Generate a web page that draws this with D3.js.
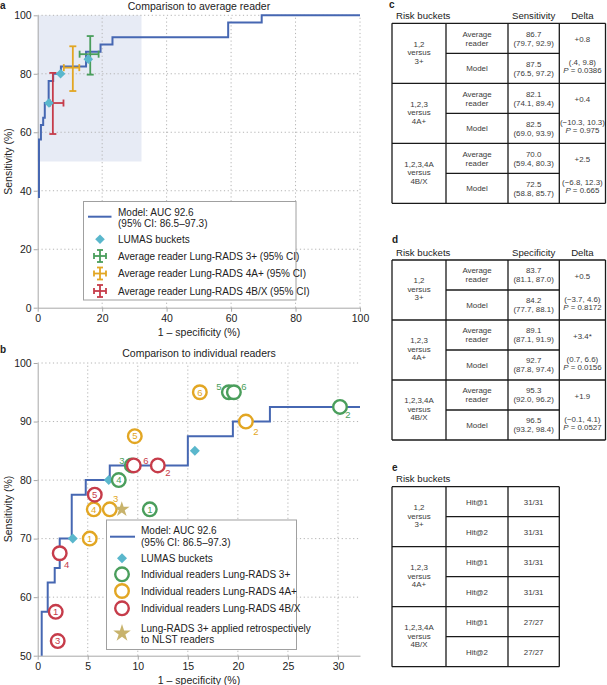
<!DOCTYPE html>
<html>
<head>
<meta charset="utf-8">
<script src="https://cdn.jsdelivr.net/npm/d3@7"></script>
<style>
  body { margin: 0; background: #fff; }
  svg text { font-family: "Liberation Sans", Arial, sans-serif; }
  .axis path, .axis line { stroke: #a8a8a8; }
  .axis text { fill: #222; font-size: 10.5px; }
  .grid line { stroke: #b4b4b4; stroke-dasharray: 1.2,2.6; }
  .tbl text { fill: #3a3a3a; font-size: 7.9px; }
</style>
</head>
<body>
<svg id="fig" width="607" height="685"></svg>
<script>
/* ROC step breakpoints (1 - specificity, sensitivity) */
const rocFpr = [0.4, 1.0, 1.7, 2.2, 3.4, 4.8, 7.2, 15.0, 19.5, 23.2, 59.1, 69.5, 100];
const rocTpr = [37.5, 57.5, 62.5, 65, 70, 77.5, 80, 82.5, 87.5, 90, 92.5, 97.5, 100];

/* LUMAS bucket operating points */
const lumasFpr = [3.5, 7.1, 15.7];
const lumasTpr = [70, 80, 85];

/* average reader operating points with 95% CI, order: 3+, 4A+, 4B/X */
const avgFpr = [16.3, 10.9, 4.7];
const avgFprLo = [13.0, 8.1, 3.8];
const avgFprHi = [18.9, 12.9, 8.0];
const avgTpr = [86.7, 82.1, 70.0];
const avgTprLo = [79.7, 74.1, 59.4];
const avgTprHi = [92.9, 89.4, 80.3];

/* individual readers 1..6 */
const readerIds = ["1", "2", "3", "4", "5", "6"];
const green3Fpr = [11.2, 30.2, 9.4, 8.1, 19.1, 19.6];
const green3Tpr = [75, 92.5, 82.5, 80, 95, 95];
const orange4aFpr = [5.2, 20.8, 7.2, 5.6, 9.7, 16.2];
const orange4aTpr = [70, 90, 75, 75, 87.5, 95];
const red4bFpr = [1.8, 12.0, 2.0, 2.2, 5.7, 9.6];
const red4bTpr = [57.5, 82.5, 52.5, 67.5, 77.5, 82.5];

/* NLST retrospective point */
const nlstFpr = [8.4];
const nlstTpr = [75];

const ticksA = [0, 20, 40, 60, 80, 100];
const ticksBx = [0, 5, 10, 15, 20, 25, 30];
const ticksBy = [50, 60, 70, 80, 90, 100];

/* tables */
const bucketNames = [["1,2", "versus", "3+"], ["1,2,3", "versus", "4A+"], ["1,2,3,4A", "versus", "4B/X"]];
const sensAvg = ["86.7", "82.1", "70.0"];
const sensAvgCI = ["(79.7, 92.9)", "(74.1, 89.4)", "(59.4, 80.3)"];
const sensModel = ["87.5", "82.5", "72.5"];
const sensModelCI = ["(76.5, 97.2)", "(69.0, 93.9)", "(58.8, 85.7)"];
const sensDelta = ["+0.8", "+0.4", "+2.5"];
const sensDeltaCI = ["(.4, 9.8)", "(\u221210.3, 10.3)", "(\u22126.8, 12.3)"];
const sensP = ["0.0386", "0.975", "0.665"];
const specAvg = ["83.7", "89.1", "95.3"];
const specAvgCI = ["(81.1, 87.0)", "(87.1, 91.9)", "(92.0, 96.2)"];
const specModel = ["84.2", "92.7", "96.5"];
const specModelCI = ["(77.7, 88.1)", "(87.8, 97.4)", "(93.2, 98.4)"];
const specDelta = ["+0.5", "+3.4*", "+1.9"];
const specDeltaCI = ["(\u22123.7, 4.6)", "(0.7, 6.6)", "(\u22120.1, 4.1)"];
const specP = ["0.8172", "0.0156", "0.0527"];
const hit1 = ["31/31", "31/31", "27/27"];
const hit2 = ["31/31", "31/31", "27/27"];

const C = {
  blue: "#4667b2", diamond: "#5ab7cc", green: "#4a9e5c", orange: "#e2a623",
  red: "#c63c4a", star: "#c8b36c", shade: "#e7ebf5"
};

const svg = d3.select("#fig");

function addAxes(g, x, y, xt, yt) {
  const [x0, x1] = x.range();
  const [y0, y1] = y.range();
  const grid = g.append("g").attr("class", "grid");
  grid.selectAll(".gx").data(xt.filter(d => d > x.domain()[0]))
    .join("line").attr("x1", d => x(d)).attr("x2", d => x(d)).attr("y1", y0).attr("y2", y1);
  grid.selectAll(".gy").data(yt.filter(d => d > y.domain()[0]))
    .join("line").attr("y1", d => y(d)).attr("y2", d => y(d)).attr("x1", x0).attr("x2", x1);
  g.append("g").attr("class", "axis")
    .attr("transform", "translate(0," + y0 + ")")
    .call(d3.axisBottom(x).tickValues(xt).tickSize(4).tickSizeOuter(0).tickPadding(3));
  g.append("g").attr("class", "axis")
    .attr("transform", "translate(" + x0 + ",0)")
    .call(d3.axisLeft(y).tickValues(yt).tickSize(4).tickSizeOuter(0).tickPadding(2));
}

function rocPath(x, y) {
  return d3.line().x(d => x(d[0])).y(d => y(d[1])).curve(d3.curveStepBefore)(d3.zip(rocFpr, rocTpr));
}

function diamond(g, cx, cy, s) {
  g.append("path").attr("d", d3.symbol(d3.symbolSquare, s)())
    .attr("transform", "translate(" + cx + "," + cy + ") rotate(45)")
    .attr("fill", C.diamond);
}

function errCross(g, cx, cy, xl, xh, yl, yh, col, cap) {
  const e = g.append("g").attr("stroke", col).attr("stroke-width", 1.8).attr("fill", "none");
  e.append("line").attr("x1", xl).attr("x2", xh).attr("y1", cy).attr("y2", cy);
  e.append("line").attr("x1", cx).attr("x2", cx).attr("y1", yl).attr("y2", yh);
  [xl, xh].forEach(v => e.append("line").attr("x1", v).attr("x2", v).attr("y1", cy - cap).attr("y2", cy + cap));
  [yl, yh].forEach(v => e.append("line").attr("y1", v).attr("y2", v).attr("x1", cx - cap).attr("x2", cx + cap));
}

function panelText(x, y, t, size, opts) {
  const el = svg.append("text").attr("x", x).attr("y", y).attr("font-size", size).attr("fill", "#222").text(t);
  if (opts && opts.anchor) el.attr("text-anchor", opts.anchor);
  if (opts && opts.bold) el.attr("font-weight", "bold");
  if (opts && opts.rotate) el.attr("transform", "rotate(-90," + x + "," + y + ")");
  return el;
}

/* ---------- panel a ---------- */
(function () {
  const x = d3.scaleLinear().domain([0, 100]).range([37.7, 360]);
  const y = d3.scaleLinear().domain([0, 100]).range([307.7, 15.3]);
  const g = svg.append("g");

  g.append("rect").attr("x", x(0)).attr("y", y(100))
    .attr("width", x(32.2) - x(0)).attr("height", y(50) - y(100)).attr("fill", C.shade);
  addAxes(g, x, y, ticksA, ticksA);

  g.append("path").attr("d", rocPath(x, y)).attr("fill", "none")
    .attr("stroke", C.blue).attr("stroke-width", 2);

  const cols = [C.green, C.orange, C.red];
  avgFpr.forEach((v, i) => {
    errCross(g, x(v), y(avgTpr[i]), x(avgFprLo[i]), x(avgFprHi[i]),
      y(avgTprLo[i]), y(avgTprHi[i]), cols[i], 3.5);
  });
  lumasFpr.forEach((v, i) => diamond(g, x(v), y(lumasTpr[i]), 46));

  panelText(0, 9, "a", 10, { bold: true });
  panelText(199, 10, "Comparison to average reader", 10.5, { anchor: "middle" });
  panelText(199, 335.5, "1 \u2013 specificity (%)", 10.5, { anchor: "middle" });
  panelText(12, 161.5, "Sensitivity (%)", 10.5, { anchor: "middle", rotate: true });

  // legend
  const lg = svg.append("g");
  lg.append("rect").attr("x", 83.5).attr("y", 201.5).attr("width", 212.5).attr("height", 98.5)
    .attr("fill", "#fff").attr("stroke", "#a0a0a0").attr("stroke-width", 1);
  lg.append("line").attr("x1", 88).attr("x2", 111.5).attr("y1", 216.7).attr("y2", 216.7)
    .attr("stroke", C.blue).attr("stroke-width", 2);
  const tx = 118;
  const lt = (yy, t) => lg.append("text").attr("x", tx).attr("y", yy).attr("font-size", 10).attr("fill", "#222").text(t);
  lt(216, "Model: AUC 92.6");
  lt(227, "(95% CI: 86.5\u201397.3)");
  diamond(lg, 100, 239.3, 46);
  lt(243, "LUMAS buckets");
  const names = ["Average reader Lung-RADS 3+ (95% CI)", "Average reader Lung-RADS 4A+ (95% CI)",
    "Average reader Lung-RADS 4B/X (95% CI)"];
  [256, 273.5, 291].forEach((yy, i) => {
    errCross(lg, 100, yy, 94, 106, yy - 6, yy + 6, cols[i], 3);
    lt(yy + 3.7, names[i]);
  });
})();

/* ---------- panel b ---------- */
(function () {
  const x = d3.scaleLinear().domain([0, 32.2]).range([37.7, 360]);
  const y = d3.scaleLinear().domain([50, 100]).range([655.7, 363]);
  const g = svg.append("g");
  addAxes(g, x, y, ticksBx, ticksBy);

  g.append("defs").append("clipPath").attr("id", "clip-b").append("rect")
    .attr("x", x(0)).attr("y", y(100)).attr("width", x(32.2) - x(0)).attr("height", y(50) - y(100));
  g.append("path").attr("d", rocPath(x, y)).attr("clip-path", "url(#clip-b)")
    .attr("fill", "none").attr("stroke", C.blue).attr("stroke-width", 2);

  lumasFpr.forEach((v, i) => diamond(g, x(v), y(lumasTpr[i]), 50));

  // labels drawn outside the ring: [dx, dy]
  const outside = {
    g2: [8, 8], g3: [-10, -5], g5: [-10, -6], g6: [10, -6],
    o2: [10, 10], o3: [6, -11], r2: [10, 7], r4: [7, 11], r6: [12, -5]
  };
  const groups = [["g", green3Fpr, green3Tpr, C.green], ["o", orange4aFpr, orange4aTpr, C.orange],
    ["r", red4bFpr, red4bTpr, C.red]];
  groups.forEach(([key, fx, ty, col]) => {
    readerIds.forEach((id, i) => {
      const cx = x(fx[i]), cy = y(ty[i]);
      g.append("circle").attr("cx", cx).attr("cy", cy).attr("r", 6.8)
        .attr("fill", "#fff").attr("stroke", col).attr("stroke-width", 2.4);
      const off = outside[key + id] || [0, 0];
      g.append("text").attr("x", cx + off[0]).attr("y", cy + off[1] + 3.3)
        .attr("text-anchor", "middle").attr("font-size", 9.5).attr("fill", col).text(id);
    });
  });

  nlstFpr.forEach((v, i) => {
    g.append("path").attr("d", d3.symbol(d3.symbolStar, 75)())
      .attr("transform", "translate(" + x(v) + "," + y(nlstTpr[i]) + ")").attr("fill", C.star);
  });

  panelText(0, 353, "b", 10, { bold: true });
  panelText(199, 357, "Comparison to individual readers", 10.5, { anchor: "middle" });
  panelText(199, 684, "1 \u2013 specificity (%)", 10.5, { anchor: "middle" });
  panelText(12, 509, "Sensitivity (%)", 10.5, { anchor: "middle", rotate: true });

  const lg = svg.append("g");
  lg.append("rect").attr("x", 106.5).attr("y", 520).attr("width", 190).attr("height", 129.5)
    .attr("fill", "#fff").attr("stroke", "#a0a0a0").attr("stroke-width", 1);
  lg.append("line").attr("x1", 110).attr("x2", 135).attr("y1", 536.7).attr("y2", 536.7)
    .attr("stroke", C.blue).attr("stroke-width", 2);
  const tx = 141;
  const lt = (yy, t) => lg.append("text").attr("x", tx).attr("y", yy).attr("font-size", 10).attr("fill", "#222").text(t);
  lt(534, "Model: AUC 92.6");
  lt(546, "(95% CI: 86.5\u201397.3)");
  diamond(lg, 122, 558.3, 50);
  lt(562, "LUMAS buckets");
  const names = ["Individual readers Lung-RADS 3+", "Individual readers Lung-RADS 4A+",
    "Individual readers Lung-RADS 4B/X"];
  [C.green, C.orange, C.red].forEach((col, i) => {
    const yy = [574.3, 591, 608.3][i];
    lg.append("circle").attr("cx", 122).attr("cy", yy).attr("r", 6.8)
      .attr("fill", "#fff").attr("stroke", col).attr("stroke-width", 2.4);
    lt(yy + 3.7, names[i]);
  });
  lg.append("path").attr("d", d3.symbol(d3.symbolStar, 95)())
    .attr("transform", "translate(122,633.3)").attr("fill", C.star);
  lt(631.5, "Lung-RADS 3+ applied retrospectively");
  lt(642.5, "to NLST readers");
})();

/* ---------- tables c, d, e ---------- */
function multiText(g, cx, cy, lines, lh) {
  const n = lines.length;
  lines.forEach((t, k) => {
    const el = g.append("text").attr("x", cx).attr("y", cy + (k - (n - 1) / 2) * lh + 2.8)
      .attr("text-anchor", "middle");
    if (t.startsWith("P = ")) {
      el.append("tspan").attr("font-style", "italic").text("P");
      el.append("tspan").text(t.slice(1));
    } else {
      el.text(t);
    }
  });
}

function drawTable(opt) {
  const g = svg.append("g").attr("class", "tbl");
  const cx = opt.cols;
  const rowH = 30, top = opt.top;
  const right = cx[cx.length - 1];
  svg.append("text").attr("x", opt.letterX).attr("y", opt.letterY).attr("font-size", 10)
    .attr("font-weight", "bold").attr("fill", "#222").text(opt.letter);
  svg.append("text").attr("x", 396).attr("y", opt.top - 4.5).attr("font-size", 9.6)
    .attr("fill", "#222").text("Risk buckets");
  (opt.heads || []).forEach((h, i) => {
    svg.append("text").attr("x", (cx[i + 2] + cx[i + 3]) / 2).attr("y", opt.top - 4.5)
      .attr("text-anchor", "middle").attr("font-size", 9.6).attr("fill", "#222").text(h);
  });

  const bottom = top + bucketNames.length * 2 * rowH;
  const ln = (x1, y1, x2, y2, w) => g.append("line").attr("x1", x1).attr("y1", y1).attr("x2", x2)
    .attr("y2", y2).attr("stroke", "#1a1a1a").attr("stroke-width", w || 1.3);
  cx.forEach(v => ln(v, top, v, bottom));
  for (let i = 0; i <= bucketNames.length; i++) ln(cx[0], top + i * 2 * rowH, right, top + i * 2 * rowH);
  const midRight = cx.length > 4 ? cx[3] : right;

  bucketNames.forEach((b, i) => {
    const gy = top + i * 2 * rowH;
    ln(cx[1], gy + rowH, midRight, gy + rowH);
    multiText(g, (cx[0] + cx[1]) / 2, gy + rowH - 1, b, 8.5);
    opt.rows(i).forEach((r, k) => {
      const ry = gy + rowH * k + rowH / 2;
      multiText(g, (cx[1] + cx[2]) / 2, ry, r[0], 8.8);
      multiText(g, (cx[2] + cx[3]) / 2, ry, r[1], 8.8);
    });
    if (opt.delta) {
      const d = opt.delta(i);
      const dcx = (cx[3] + cx[4]) / 2;
      multiText(g, dcx, gy + rowH / 2 + 1, [d[0]], 9);
      multiText(g, dcx, gy + rowH + rowH / 2 - 2, d.slice(1), 8.2);
    }
  });
}

const tableCols = [392, 446, 508, 559.3, 605.5];

drawTable({
  letter: "c", letterX: 389, letterY: 8, top: 23.3, cols: tableCols,
  heads: ["Sensitivity", "Delta"],
  rows: i => [[["Average", "reader"], [sensAvg[i], sensAvgCI[i]]], [["Model"], [sensModel[i], sensModelCI[i]]]],
  delta: i => [sensDelta[i], sensDeltaCI[i], "P = " + sensP[i]]
});

drawTable({
  letter: "d", letterX: 392, letterY: 243, top: 260, cols: tableCols,
  heads: ["Specificity", "Delta"],
  rows: i => [[["Average", "reader"], [specAvg[i], specAvgCI[i]]], [["Model"], [specModel[i], specModelCI[i]]]],
  delta: i => [specDelta[i], specDeltaCI[i], "P = " + specP[i]]
});

drawTable({
  letter: "e", letterX: 392, letterY: 471, top: 486.7, cols: tableCols.slice(0, 4),
  heads: [],
  rows: i => [[["Hit@1"], [hit1[i]]], [["Hit@2"], [hit2[i]]]]
});
</script>
</body>
</html>
